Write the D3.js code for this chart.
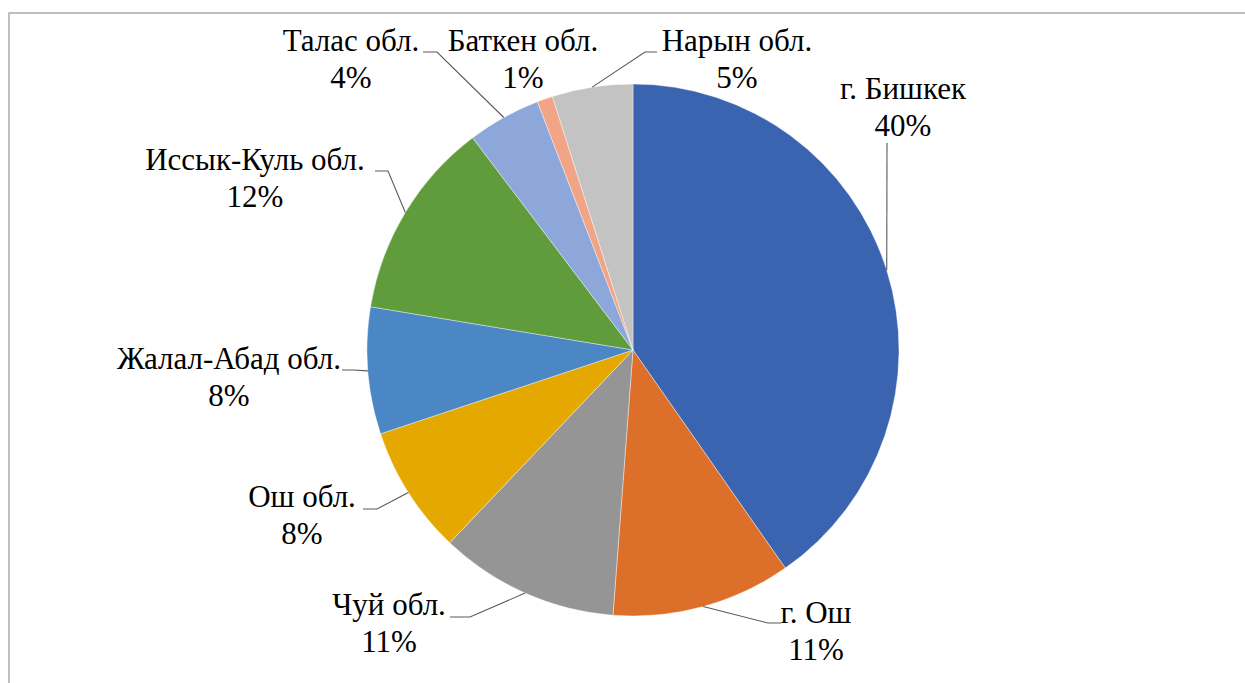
<!DOCTYPE html>
<html><head><meta charset="utf-8"><script src="https://cdn.jsdelivr.net/npm/d3@7"></script></head>
<body style="margin:0">
<svg id="s" width="1245" height="683"></svg>
<script>
// ---- data ----
const categories = ["г. Бишкек", "г. Ош", "Чуй обл.", "Ош обл.", "Жалал-Абад обл.", "Иссык-Куль обл.", "Талас обл.", "Баткен обл.", "Нарын обл."];
const values = [40.3, 10.9, 10.9, 7.8, 7.7, 12.1, 4.45, 0.95, 4.9];
const colors = ["#3B64B0", "#DC6F29", "#959595", "#E4A800", "#4A87C4", "#609B3C", "#8DA7DA", "#F2A487", "#C3C3C3"];

// ---- layout (label anchor: centre x, first baseline y; leader: text-side start, elbow) ----
const labelPos = [
  [903, 99], [816, 623], [389, 615], [302, 507], [229, 369],
  [255, 170], [351, 51], [523, 51], [737, 51]
];
const leaderPts = [
  [[887, 143]],
  [[781, 623], [768, 623]],
  [[450, 617], [470, 617]],
  [[363, 509], [377, 509]],
  [[342, 370], [353, 370]],
  [[375, 171], [388, 171]],
  [[423, 52], [437, 52]],
  null,
  [[657, 52], [645, 52]]
];

const W = 1245, H = 683;
const cx = 633, cy = 350, R = 266;
const svg = d3.select("#s");

svg.append("rect")
  .attr("x", 9).attr("y", 13).attr("width", W + 20).attr("height", H + 20)
  .attr("fill", "#fff").attr("stroke", "#ABABAB").attr("stroke-width", 1.5);

const total = d3.sum(values);
const data = categories.map((c, i) => ({ name: c, value: values[i] }));
const pie = d3.pie().value(d => d.value).sort(null);
const arcs = pie(data);
const arc = d3.arc().innerRadius(0).outerRadius(R);
const color = d3.scaleOrdinal().domain(categories).range(colors);

const g = svg.append("g").attr("transform", `translate(${cx},${cy})`);
g.selectAll("path").data(arcs).join("path")
  .attr("d", arc)
  .attr("fill", d => color(d.data.name))
  .attr("stroke", "#fff").attr("stroke-width", 0.4);

const line = d3.line();
arcs.forEach((a, i) => {
  const pts = leaderPts[i];
  if (!pts) return;
  const mid = (a.startAngle + a.endAngle) / 2;
  const end = [cx + R * Math.sin(mid), cy - R * Math.cos(mid)];
  svg.append("path")
    .attr("d", line(pts.concat([end])))
    .attr("fill", "none").attr("stroke", "#5A5A5A").attr("stroke-width", 1.1);
});

const fontSize = 31, lineGap = 37;
function addText(x, y, str) {
  const t = svg.append("text").attr("x", x).attr("y", y).attr("font-size", fontSize)
    .style("font-family", "Liberation Serif").text(str);
  const w = t.node().getComputedTextLength();
  t.attr("x", x - w / 2);
}
arcs.forEach((a, i) => {
  const [x, y] = labelPos[i];
  addText(x, y, a.data.name);
  addText(x, y + lineGap, Math.round(a.data.value / total * 100) + "%");
});
</script></body></html>
